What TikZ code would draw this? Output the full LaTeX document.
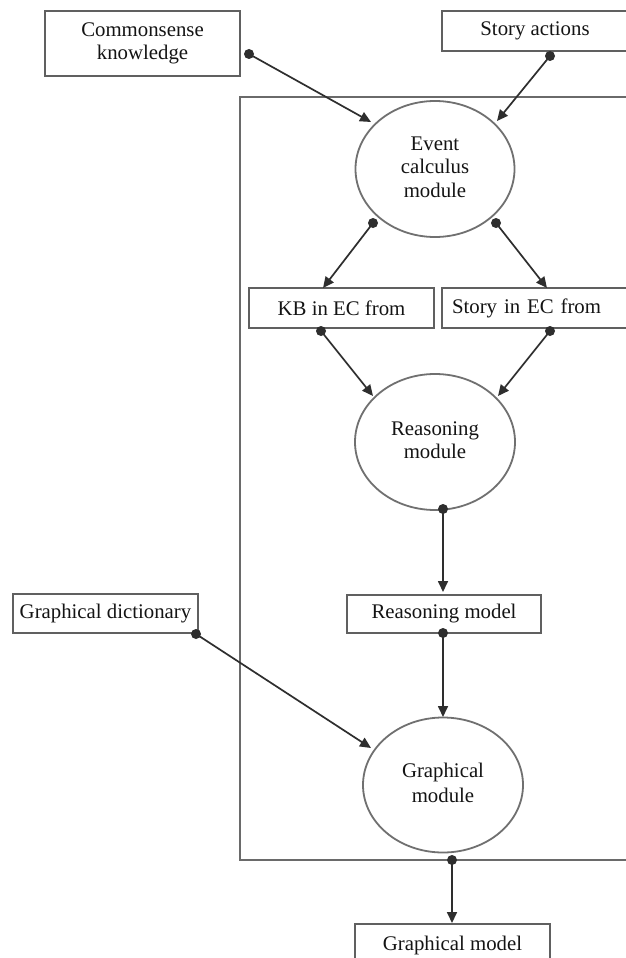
\documentclass[tikz,border=0pt]{standalone}
\usepackage{fontspec}
\setmainfont{Liberation Serif}
\usetikzlibrary{arrows.meta,shapes.geometric}
\definecolor{boxline}{HTML}{606060}
\definecolor{frameline}{HTML}{6A6A6A}
\definecolor{ellline}{HTML}{707070}
\definecolor{conline}{HTML}{2E2E2E}
\definecolor{txt}{HTML}{141414}
\tikzset{
  boxnode/.style={draw=boxline, line width=1.8pt, rectangle, fill=white, inner sep=0pt, text=txt, align=center},
  modnode/.style={draw=ellline, line width=1.8pt, ellipse, fill=white, inner sep=0pt, text=txt, align=center},
  conn/.style={draw=conline, line width=1.7pt, -{Triangle[length=11pt,width=10pt]}},
  dotmark/.style={fill=conline},
}
\begin{document}
\begin{tikzpicture}[x=1pt,y=-1pt]
\useasboundingbox (0,0) rectangle (626,958);
\fill[white] (0,0) rectangle (626,958);
\fontsize{20.8}{24.5}\selectfont
% frame
\node[draw=frameline, line width=2pt, rectangle, minimum width=390pt, minimum height=763pt, inner sep=0pt] (frame) at (435,478.5) {};
% nodes
\node[boxnode, minimum width=195pt, minimum height=65pt] (ck) at (142.5,43.5) {Commonsense\\[-1pt]knowledge};
\node[boxnode, minimum width=186pt, minimum height=40pt] (sa) at (535,31) {\raisebox{3pt}{Story actions}};
\node[modnode, minimum width=159pt, minimum height=136pt] (ec) at (435,169) {\raisebox{4pt}{\begin{tabular}{@{}c@{}}Event\\[-1pt]calculus\\[-1pt]module\end{tabular}}};
\node[boxnode, minimum width=185pt, minimum height=40pt] (kb) at (341.5,308) {KB in EC from};
\node[boxnode, minimum width=188pt, minimum height=40pt, text width=168pt, align=left, inner xsep=10pt] (sec) at (536,308) {Story in EC from};
\node[modnode, minimum width=160pt, minimum height=136pt] (rm) at (435,442) {\raisebox{3pt}{\begin{tabular}{@{}c@{}}Reasoning\\[-1pt]module\end{tabular}}};
\node[boxnode, minimum width=194pt, minimum height=38pt] (rmod) at (444,614) {Reasoning model};
\node[boxnode, minimum width=185pt, minimum height=39pt] (gd) at (105.5,613.5) {Graphical dictionary};
\node[modnode, minimum width=160pt, minimum height=135pt] (gm) at (443,785) {\raisebox{5pt}{\begin{tabular}{@{}c@{}}Graphical\\[0pt]module\end{tabular}}};
\node[boxnode, minimum width=195pt, minimum height=42pt] (gmod) at (452.5,945) {\raisebox{1pt}{Graphical model}};
% connector end points
\coordinate (s1) at (249,54);  \coordinate (e1) at (371,122);
\coordinate (s2) at (550,56);  \coordinate (e2) at (497,121);
\coordinate (s3) at (373,223); \coordinate (e3) at (323,288);
\coordinate (s4) at (496,223); \coordinate (e4) at (547,288);
\coordinate (s5) at (321,331); \coordinate (e5) at (373,396);
\coordinate (s6) at (550,331); \coordinate (e6) at (498,396);
\coordinate (s7) at (443,509); \coordinate (e7) at (443,592);
\coordinate (s8) at (443,633); \coordinate (e8) at (443,717);
\coordinate (s9) at (196,634); \coordinate (e9) at (371,748);
\coordinate (s10) at (452,860); \coordinate (e10) at (452,923);
\foreach \i in {1,...,10}{
  \draw[conn] (s\i) -- (e\i);
  \fill[dotmark] (s\i) circle (5pt);
}
\end{tikzpicture}
\end{document}
